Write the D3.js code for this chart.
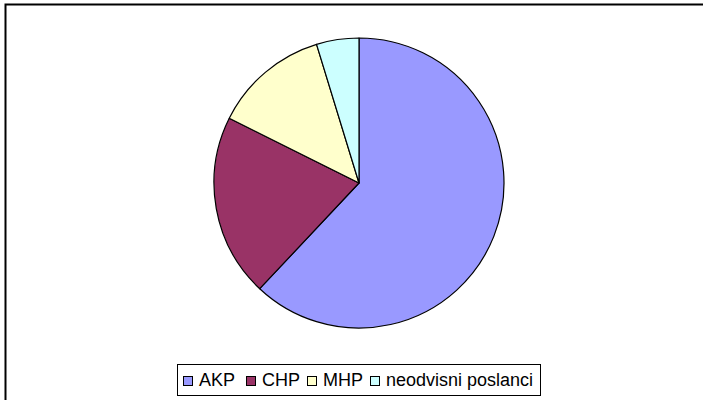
<!DOCTYPE html>
<html>
<head>
<meta charset="utf-8">
<script src="https://cdn.jsdelivr.net/npm/d3@7"></script>
<style>
  body { margin: 0; background: #fff; }
  svg { display: block; font-family: Arial, "Liberation Sans", sans-serif; }
</style>
</head>
<body>
<div id="chart"></div>
<script>
// data
var parties = ["AKP", "CHP", "MHP", "neodvisni poslanci"];
var seats = [341, 112, 71, 26];
var colors = ["#9999ff", "#993366", "#ffffcc", "#ccffff"];

function init() {
  var w = 703;
  var h = 400;
  var cx = 359, cy = 183, r = 145;

  var svg = d3.select("#chart")
    .append("svg")
    .attr("width", w)
    .attr("height", h);

  // outer frame (cut off at right and bottom)
  svg.append("rect")
    .attr("x", 5.5)
    .attr("y", 4.5)
    .attr("width", 720)
    .attr("height", 420)
    .attr("fill", "none")
    .attr("stroke", "#000")
    .attr("stroke-width", 2);

  var data = parties.map(function(p, i) {
    return { name: p, value: seats[i], color: colors[i] };
  });

  var pie = d3.pie()
    .value(function(d) { return d.value; })
    .sort(null);

  var arc = d3.arc()
    .innerRadius(0)
    .outerRadius(r);

  var g = svg.append("g")
    .attr("transform", "translate(" + cx + "," + cy + ")");

  g.selectAll("path")
    .data(pie(data))
    .enter()
    .append("path")
    .attr("d", arc)
    .attr("fill", function(d) { return d.data.color; })
    .attr("stroke", "#000")
    .attr("stroke-width", 1.2)
    .attr("stroke-linejoin", "round");

  // legend
  var legend = svg.append("g").attr("class", "legend");

  legend.append("rect")
    .attr("x", 177.5)
    .attr("y", 364.5)
    .attr("width", 363)
    .attr("height", 31)
    .attr("fill", "#fff")
    .attr("stroke", "#000")
    .attr("stroke-width", 1);

  var xs = [183, 246, 307, 370];
  var items = legend.selectAll(".item")
    .data(data)
    .enter()
    .append("g")
    .attr("class", "item")
    .attr("transform", function(d, i) { return "translate(" + xs[i] + ",0)"; });

  items.append("rect")
    .attr("x", 0.5)
    .attr("y", 376.5)
    .attr("width", 9)
    .attr("height", 9)
    .attr("fill", function(d) { return d.color; })
    .attr("stroke", "#000")
    .attr("stroke-width", 1);

  items.append("text")
    .attr("x", 16)
    .attr("y", 386)
    .attr("font-size", "18px")
    .attr("fill", "#000")
    .text(function(d) { return d.name; });
}

window.onload = init;
</script>
</body>
</html>
